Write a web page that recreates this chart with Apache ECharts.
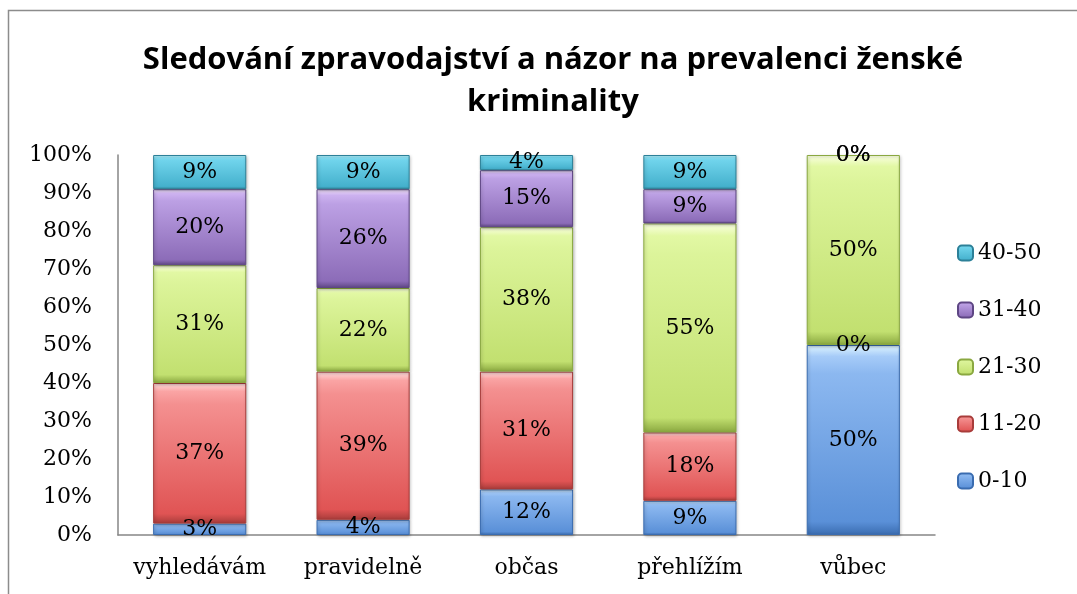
<!DOCTYPE html>
<html>
<head>
<meta charset="utf-8">
<script src="https://cdn.jsdelivr.net/npm/echarts@6/dist/echarts.min.js"></script>
<style>
  html, body { margin: 0; padding: 0; background: #fff; }
  #chart { width: 1077px; height: 594px; }
</style>
</head>
<body>
<div id="chart"></div>
<script>
// data (percent of each group)
const categories = ['vyhledávám', 'pravidelně', 'občas', 'přehlížím', 'vůbec']
const seriesNames = ['0-10', '11-20', '21-30', '31-40', '40-50']
const age0to10 = [3, 4, 12, 9, 50]
const age11to20 = [37, 39, 31, 18, 0]
const age21to30 = [31, 22, 38, 55, 50]
const age31to40 = [20, 26, 15, 9, 0]
const age40to50 = [9, 9, 4, 9, 0]
const yTicks = [0, 10, 20, 30, 40, 50, 60, 70, 80, 90, 100]

const values = [age0to10, age11to20, age21to30, age31to40, age40to50]

// top highlight -> body -> darker bottom, Excel 2007 bevel look
const palettes = [
  ['#e0f6ff', '#a6cbf8', '#8cb8f0', '#5a90d8', '#3a6cb0'],
  ['#ffe0e0', '#faa4a4', '#f49090', '#e05454', '#a83c3a'],
  ['#fbffe4', '#e2f8a4', '#dcf49a', '#c2e070', '#8aa840'],
  ['#f8eaff', '#cdb2f0', '#bca0e4', '#8c6cb8', '#5e4684'],
  ['#d0f8ff', '#8ee2f4', '#70d4ec', '#44b0cc', '#2c8098']
]

const grad = (c) => new echarts.graphic.LinearGradient(0, 0, 0, 1, [
  { offset: 0, color: c[0] },
  { offset: 0.06, color: c[1] },
  { offset: 0.15, color: c[2] },
  { offset: 0.93, color: c[3] },
  { offset: 1, color: c[4] }
])

const serif = 'DejaVu Serif'

const chart = echarts.init(document.getElementById('chart'))

const series = seriesNames.map((name, i) => ({
  name,
  type: 'bar',
  stack: 'total',
  barWidth: '57%',
  // zero segments get no border so they don't leave a stray line
  data: values[i].map(v => v === 0 ? { value: v, itemStyle: { borderWidth: 0, shadowBlur: 0, shadowOffsetX: 0, shadowOffsetY: 0 } } : v),
  itemStyle: {
    color: grad(palettes[i]),
    borderColor: palettes[i][4],
    borderWidth: 1,
    shadowColor: 'rgba(0,0,0,0.25)',
    shadowBlur: 3,
    shadowOffsetX: 1,
    shadowOffsetY: 1
  },
  label: {
    show: true,
    position: 'inside',
    formatter: '{c}%',
    color: '#000',
    fontFamily: serif,
    fontSize: 22
  }
}))

chart.setOption({
  backgroundColor: '#fff',
  animation: false,
  title: {
    text: 'Sledování zpravodajství a názor na prevalenci ženské\nkriminality',
    left: 548,
    top: 34,
    textAlign: 'center',
    textStyle: {
      fontFamily: 'Liberation Sans Narrow, Open Sans',
      fontWeight: 'bold',
      fontSize: 31,
      lineHeight: 42,
      color: '#000'
    }
  },
  graphic: [
    {
      type: 'polyline',
      shape: { points: [[8.5, 600], [8.5, 10.5], [1080, 10.5]] },
      style: { stroke: '#8c8c8c', lineWidth: 1.5, fill: null },
      silent: true
    }
  ],
  legend: {
    orient: 'vertical',
    left: 952,
    top: 237,
    itemWidth: 15,
    itemHeight: 15,
    itemGap: 35,
    data: seriesNames.slice().reverse(),
    textStyle: {
      fontFamily: serif,
      fontSize: 22,
      color: '#000'
    }
  },
  grid: {
    left: 118,
    right: 142,
    top: 155,
    bottom: 59,
    containLabel: false
  },
  xAxis: {
    type: 'category',
    data: categories,
    axisLine: { lineStyle: { color: '#868686', width: 1.5 } },
    axisTick: { show: false },
    axisLabel: {
      interval: 0,
      hideOverlap: false,
      margin: 22,
      fontFamily: serif,
      fontSize: 22,
      color: '#000'
    }
  },
  yAxis: {
    type: 'value',
    min: yTicks[0],
    max: yTicks[yTicks.length - 1],
    interval: yTicks[1] - yTicks[0],
    splitLine: { show: false },
    axisLine: { show: true, lineStyle: { color: '#868686', width: 1.5 } },
    axisTick: { show: false },
    axisLabel: {
      margin: 26,
      formatter: '{value}%',
      fontFamily: serif,
      fontSize: 22,
      color: '#000'
    }
  },
  series
})
</script>
</body>
</html>
